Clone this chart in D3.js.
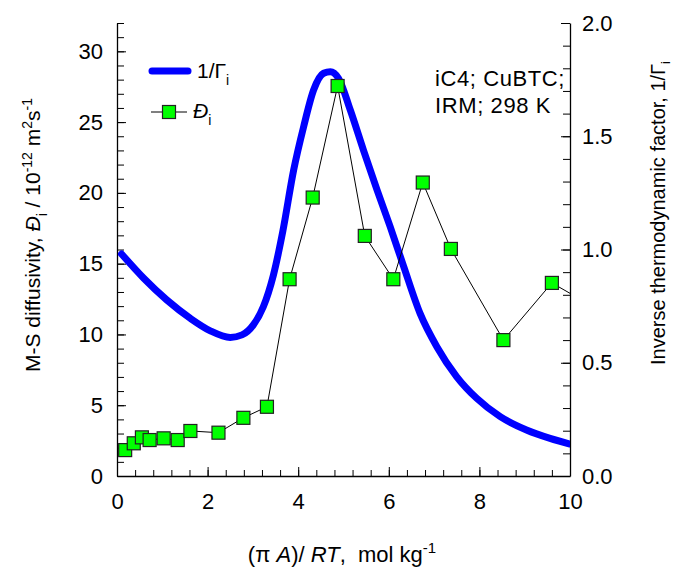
<!DOCTYPE html>
<html><head><meta charset="utf-8">
<script src="https://cdn.jsdelivr.net/npm/d3@7"></script>
<style>
body{margin:0;background:#fff;}
svg{display:block;font-family:Arial,"Liberation Sans",sans-serif;}
text{white-space:pre;}
</style></head>
<body>
<svg id="c" width="674" height="569"></svg>
<script>
// 1/Gamma curve (right axis)
const gammaX = [0.10,0.59,1.10,1.62,2.06,2.50,2.76,3.01,3.23,3.45,3.66,3.90,4.12,4.34,4.56,4.71,4.89,5.15,5.44,5.74,6.03,6.32,6.69,7.06,7.50,7.94,8.46,9.04,9.56,10.0];
const gammaY = [0.980,0.873,0.777,0.696,0.641,0.612,0.623,0.667,0.747,0.885,1.08,1.351,1.542,1.704,1.778,1.785,1.756,1.616,1.439,1.263,1.101,0.93,0.718,0.571,0.438,0.343,0.262,0.203,0.166,0.141];
// M-S diffusivity points (left axis)
const diffX = [0.18,0.37,0.55,0.72,1.03,1.34,1.62,2.24,2.79,3.31,3.81,4.32,4.87,5.47,6.10,6.75,7.37,8.53,9.60,10.6];
const diffY = [1.83,2.31,2.73,2.54,2.66,2.54,3.18,3.06,4.11,4.89,13.9,19.67,27.55,16.96,13.9,20.73,16.04,9.60,13.64,11.8];
const xTicks = [0,2,4,6,8,10];
const yLeftTicks = [0,5,10,15,20,25,30];
const yRightTicks = [0,0.5,1.0,1.5,2.0];

const svg = d3.select("#c");
const L=117, R=570, T=23, B=476;
const x = d3.scaleLinear().domain([0,10]).range([L,R]);
const yL = d3.scaleLinear().domain([0,32]).range([B,T]);
const yR = d3.scaleLinear().domain([0,2]).range([B,T]);

svg.append("defs").append("clipPath").attr("id","clip")
  .append("rect").attr("x",L).attr("y",T-10).attr("width",R-L).attr("height",B-T+10);

function styleAxis(g){
  g.selectAll("path.domain").attr("stroke","#000").attr("stroke-width",1.3);
  g.selectAll(".tick line").attr("stroke","#000").attr("stroke-width",1);
  g.selectAll("text").attr("font-size",22).attr("fill","#000").attr("font-family","Arial, 'Liberation Sans', sans-serif");
}

// minor ticks
const minorX = d3.range(0,10.001,0.4).map(v=>+v.toFixed(2));
svg.append("g").attr("transform",`translate(0,${B})`)
  .call(d3.axisBottom(x).tickValues(minorX).tickFormat("").tickSize(-6).tickSizeOuter(0))
  .call(g=>{g.select(".domain").remove(); styleAxis(g);});
svg.append("g").attr("transform",`translate(${L},0)`)
  .call(d3.axisLeft(yL).tickValues(d3.range(0,33,1)).tickFormat("").tickSize(-7).tickSizeOuter(0))
  .call(g=>{g.select(".domain").remove(); styleAxis(g);});
svg.append("g").attr("transform",`translate(${R},0)`)
  .call(d3.axisRight(yR).tickValues(d3.range(0,21,1).map(v=>v/10)).tickFormat("").tickSize(-7).tickSizeOuter(0))
  .call(g=>{g.select(".domain").remove(); styleAxis(g);});

// major axes
svg.append("g").attr("transform",`translate(0,${B})`)
  .call(d3.axisBottom(x).tickValues(xTicks).tickFormat(d3.format("d")).tickSize(-9).tickSizeOuter(0).tickPadding(17))
  .call(styleAxis);
svg.append("g").attr("transform",`translate(${L},0)`)
  .call(d3.axisLeft(yL).tickValues(yLeftTicks).tickFormat(d3.format("d")).tickSize(-9).tickSizeOuter(0).tickPadding(14))
  .call(styleAxis);
svg.append("g").attr("transform",`translate(${R},0)`)
  .call(d3.axisRight(yR).tickValues(yRightTicks).tickFormat(d3.format(".1f")).tickSize(-9).tickSizeOuter(0).tickPadding(12))
  .call(styleAxis);

// data
const plot = svg.append("g").attr("clip-path","url(#clip)");
const gData = gammaX.map((v,i)=>[v,gammaY[i]]);
plot.append("path").datum(gData)
  .attr("d", d3.line().x(d=>x(d[0])).y(d=>yR(d[1])).curve(d3.curveMonotoneX))
  .attr("fill","none").attr("stroke","#0000ff").attr("stroke-width",7).attr("stroke-linecap","round");

const dData = diffX.map((v,i)=>[v,diffY[i]]);
plot.append("path").datum(dData)
  .attr("d", d3.line().x(d=>x(d[0])).y(d=>yL(d[1])))
  .attr("fill","none").attr("stroke","#000").attr("stroke-width",1);
const S=13;
plot.selectAll("rect.pt").data(dData).join("rect").attr("class","pt")
  .attr("x",d=>x(d[0])-S/2).attr("y",d=>yL(d[1])-S/2).attr("width",S).attr("height",S)
  .attr("fill","#00ff00").attr("stroke","#222").attr("stroke-width",1.2);

// legend
svg.append("line").attr("x1",152).attr("x2",188).attr("y1",71).attr("y2",71)
  .attr("stroke","#0000ff").attr("stroke-width",7).attr("stroke-linecap","round");
const t1 = svg.append("text").attr("x",197).attr("y",78).attr("font-size",21);
t1.append("tspan").text("1/Γ");
t1.append("tspan").attr("dy",7).attr("font-size",14).text("i");
svg.append("line").attr("x1",151).attr("x2",187).attr("y1",112).attr("y2",112).attr("stroke","#000").attr("stroke-width",1);
svg.append("rect").attr("x",169-S/2).attr("y",112-S/2).attr("width",S).attr("height",S)
  .attr("fill","#00ff00").attr("stroke","#222").attr("stroke-width",1.2);
const t2 = svg.append("text").attr("x",193).attr("y",118).attr("font-size",21);
t2.append("tspan").attr("font-style","italic").text("Đ");
t2.append("tspan").attr("dy",7).attr("font-size",14).text("i");

// annotation
svg.append("text").attr("x",435).attr("y",86).attr("font-size",22).attr("letter-spacing",0.6).text("iC4; CuBTC;");
svg.append("text").attr("x",435).attr("y",113).attr("font-size",22).attr("letter-spacing",0.6).text("IRM; 298 K");

// x label
const xl = svg.append("text").attr("x",342).attr("y",562).attr("text-anchor","middle").attr("font-size",22);
xl.append("tspan").text("(π ");
xl.append("tspan").attr("font-style","italic").text("A");
xl.append("tspan").text(")/ ");
xl.append("tspan").attr("font-style","italic").text("RT");
xl.append("tspan").text(",  mol kg");
xl.append("tspan").attr("dy",-9).attr("font-size",15).text("-1");

// left label
const yl = svg.append("text").attr("transform","translate(40,235) rotate(-90)").attr("text-anchor","middle").attr("font-size",21);
yl.append("tspan").text("M-S diffusivity, ");
yl.append("tspan").attr("font-style","italic").text("Đ");
yl.append("tspan").attr("dy",7).attr("font-size",14).text("i");
yl.append("tspan").attr("dy",-7).text(" / 10");
yl.append("tspan").attr("dy",-8).attr("font-size",14).text("-12");
yl.append("tspan").attr("dy",8).text(" m");
yl.append("tspan").attr("dy",-8).attr("font-size",14).text("2");
yl.append("tspan").attr("dy",8).text("s");
yl.append("tspan").attr("dy",-8).attr("font-size",14).text("-1");

// right label
const yr = svg.append("text").attr("transform","translate(665,213) rotate(-90)").attr("text-anchor","middle").attr("font-size",20);
yr.append("tspan").text("Inverse thermodynamic factor, 1/Γ");
yr.append("tspan").attr("dy",5).attr("font-size",13).text("i");
</script>
</body></html>
